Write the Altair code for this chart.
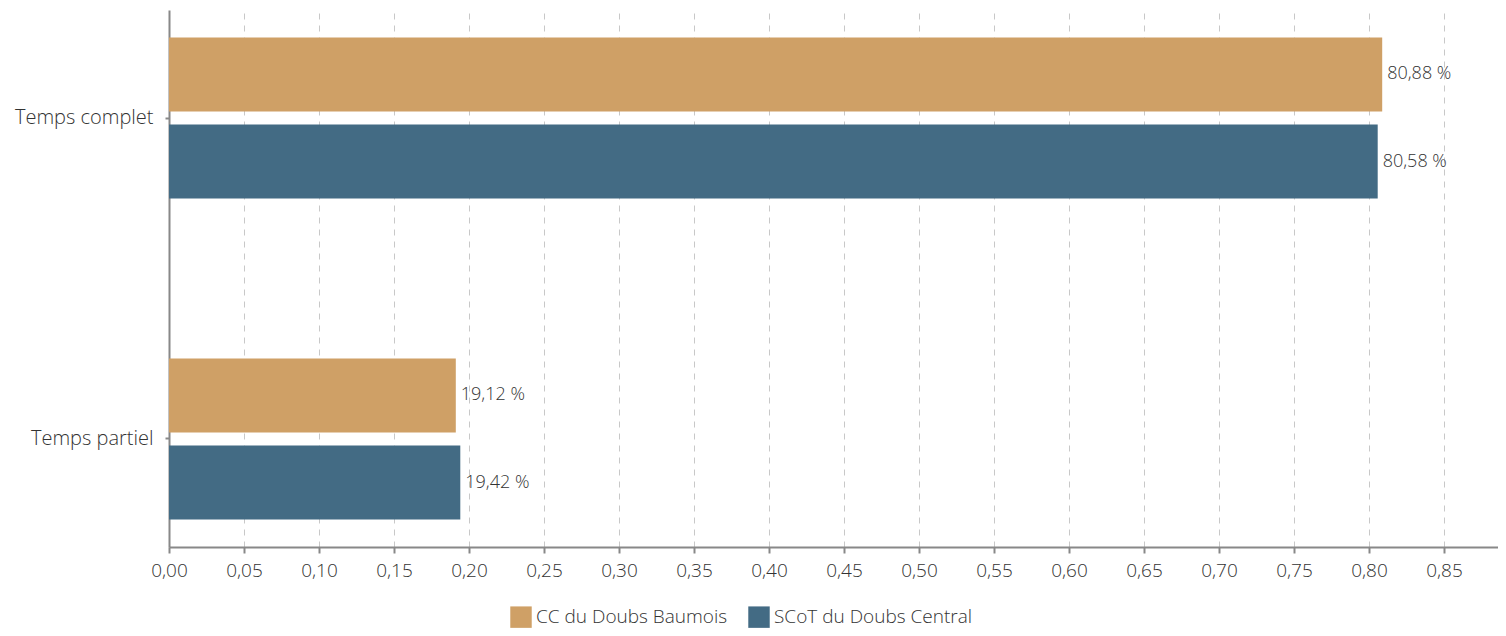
import altair as alt
import pandas as pd

categories = ["Temps complet", "Temps complet", "Temps partiel", "Temps partiel"]
series = ["CC du Doubs Baumois", "SCoT du Doubs Central", "CC du Doubs Baumois", "SCoT du Doubs Central"]
values = [0.8088, 0.8058, 0.1912, 0.1942]
labels = ["80,88 %", "80,58 %", "19,12 %", "19,42 %"]
tick_values = [round(i * 0.05, 2) for i in range(18)]
series_order = ["CC du Doubs Baumois", "SCoT du Doubs Central"]
colors = ["#CFA066", "#436B84"]

df = pd.DataFrame({"cat": categories, "serie": series, "val": values, "lab": labels})

FONT = "Open Sans"
W = 300

y = alt.Y("cat:N", title=None, sort=["Temps complet", "Temps partiel"],
          scale=alt.Scale(paddingInner=0.498, paddingOuter=0.0855),
          axis=alt.Axis(labelFontSize=20, labelColor="#333", labelFont=FONT, labelFontWeight=W,
                        labelPadding=12, labelLimit=0,
                        domainColor="#888", domainWidth=2, tickColor="#888", tickWidth=2, tickSize=4,
                        grid=False))
yoff = alt.YOffset("serie:N", sort=series_order,
                   scale=alt.Scale(paddingInner=0.15, paddingOuter=0))
x = alt.X("val:Q", title=None,
          scale=alt.Scale(domain=[0, 0.886], nice=False, zero=True),
          axis=alt.Axis(values=tick_values, labelExpr="replace(format(datum.value, '.2f'), '.', ',')",
                        labelFontSize=19, labelColor="#333", labelFont=FONT, labelFontWeight=W,
                        labelPadding=8, labelFlush=False,
                        domainColor="#888", domainWidth=2, tickColor="#888", tickWidth=2, tickSize=6,
                        grid=True, gridColor="#c8c8c8", gridDash=[6, 6], gridWidth=1))

bars = alt.Chart(df).mark_bar().encode(
    x=x, y=y, yOffset=yoff,
    color=alt.Color("serie:N", sort=series_order,
                    scale=alt.Scale(domain=series_order, range=colors),
                    legend=alt.Legend(title=None, orient="none", direction="horizontal",
                                      legendX=341, legendY=596, labelLimit=0,
                                      symbolType="square", symbolSize=460, symbolStrokeWidth=0,
                                      labelFontSize=19, labelColor="#333", labelFont=FONT,
                                      labelFontWeight=W,
                                      columnPadding=20, symbolOpacity=1)),
)

text = alt.Chart(df).mark_text(align="left", baseline="middle", dx=5, fontSize=18,
                               color="#333", font=FONT, fontWeight=W).encode(
    x="val:Q", y=alt.Y("cat:N", sort=["Temps complet", "Temps partiel"]), yOffset=yoff,
    text="lab:N")

chart = alt.layer(bars, text).properties(
    width=1329, height=537,
    padding={"left": 6, "top": 2, "right": 0, "bottom": 5},
).configure_view(stroke=None)

chart.save("out.html", embed_options={"renderer": "svg", "actions": False})
